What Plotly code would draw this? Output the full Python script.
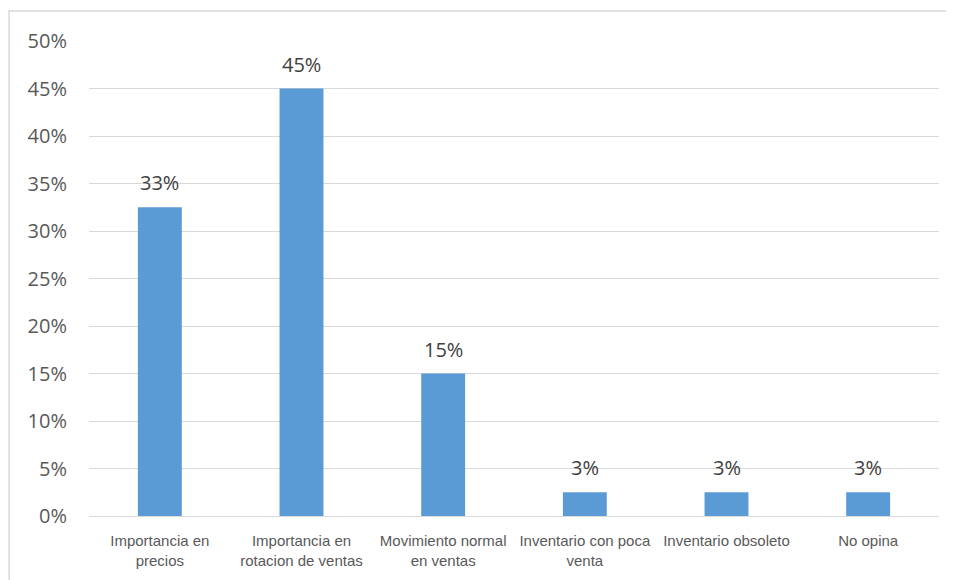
import math
import plotly.graph_objects as go

categories = [
    "Importancia en<br>precios",
    "Importancia en<br>rotacion de ventas",
    "Movimiento normal<br>en ventas",
    "Inventario con poca<br>venta",
    "Inventario obsoleto",
    "No opina",
]
values = [32.5, 45, 15, 2.5, 2.5, 2.5]
tick_vals = [0, 5, 10, 15, 20, 25, 30, 35, 40, 45, 50]
tick_text = [f"{v}%" for v in tick_vals]
labels = [f"{int(math.floor(v + 0.5))}%" for v in values]

fig = go.Figure()
fig.add_trace(go.Bar(
    x=categories, y=values,
    marker=dict(color="#5B9BD5", line=dict(width=0)),
    width=0.31,
    hoverinfo="skip",
))

for c, v, t in zip(categories, values, labels):
    fig.add_annotation(
        x=c, y=v, text=t, showarrow=False,
        yanchor="bottom", yshift=9,
        font=dict(family="Open Sans, DejaVu Sans, sans-serif", size=20, color="#404040"),
    )

fig.add_shape(
    type="rect", xref="paper", yref="paper",
    x0=-0.094, x1=1.2, y0=-0.3, y1=1.063,
    line=dict(color="#D9D9D9", width=1.5), fillcolor="rgba(0,0,0,0)", layer="below",
)

fig.update_layout(
    width=954, height=580,
    margin=dict(l=81, r=23, t=33, b=72),
    paper_bgcolor="white", plot_bgcolor="white",
    showlegend=False,
    bargap=0.69,
    xaxis=dict(
        showgrid=False, showline=True, linecolor="#D9D9D9", linewidth=1,
        tickfont=dict(family="Liberation Sans, Arial, sans-serif", size=15, color="#595959"),
        ticks="", ticklabelstandoff=11,
    ),
    yaxis=dict(
        range=[0, 50], tickvals=tick_vals, ticktext=tick_text,
        showgrid=True, gridcolor="#D9D9D9", gridwidth=1,
        zeroline=False, showline=False, ticks="",
        tickfont=dict(family="Open Sans, DejaVu Sans, sans-serif", size=20, color="#595959"),
        ticklabelstandoff=21,
    ),
)

fig.write_html("out.html")
